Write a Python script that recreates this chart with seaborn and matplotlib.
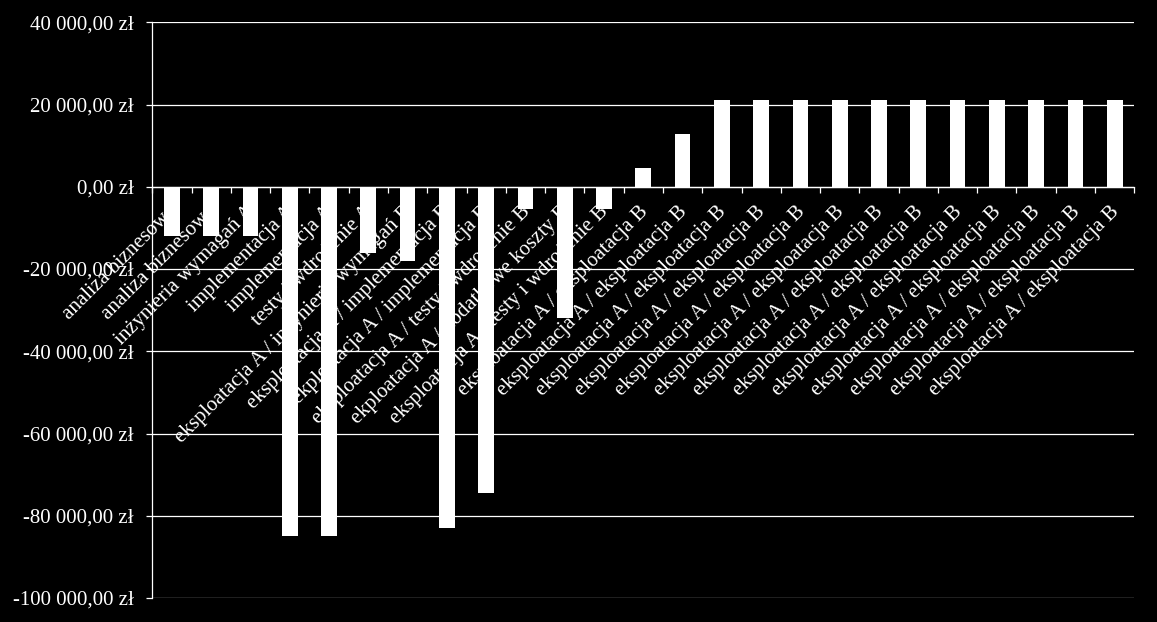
import numpy as np
import pandas as pd
import matplotlib
matplotlib.use("Agg")
import matplotlib.pyplot as plt
import seaborn as sns
from matplotlib.ticker import FuncFormatter
from matplotlib.transforms import ScaledTranslation

# ---- data ----
categories = [
    "analiza biznesowa",
    "analiza biznesowa",
    "inżynieria wymagań A",
    "implementacja A",
    "implementacja A",
    "testy i wdrożenie A",
    "eksploatacja A / inżynieria wymagań B",
    "eksploatacja A / implementacja B",
    "ekploatacja A / implementacja B",
    "eksploatacja A / testy i wdrożenie B",
    "ekploatacja A / dodatkowe koszty B",
    "eksploatacja A / testy i wdrożenie B",
] + ["eksploatacja A / eksploatacja B"] * 13

values = [
    -12000, -12000, -12000, -85000, -85000, -16000,
    -18000, -83000, -74500, -5400, -32000, -5400,
    4500, 12800,
    21000, 21000, 21000, 21000, 21000, 21000, 21000, 21000, 21000, 21000, 21000,
]

y_ticks = [40000, 20000, 0, -20000, -40000, -60000, -80000, -100000]

# ---- styling ----
sns.set_style("dark")
plt.rcParams['font.family'] = ['Liberation Serif', 'DejaVu Serif']

W, H = 1157, 622
fig = plt.figure(figsize=(W / 100, H / 100), dpi=100, facecolor='black')
left, right, top, bottom = 152.3, 1134.3, 22.3, 598.0
ax = fig.add_axes([left / W, 1 - bottom / H, (right - left) / W, (bottom - top) / H])
ax.set_facecolor('black')

df = pd.DataFrame({"poz": list(range(len(values))), "wartosc": values})
sns.barplot(data=df, x="poz", y="wartosc", color="white", saturation=1,
            width=0.4, errorbar=None, linewidth=0, ax=ax)

ax.set_xlim(-0.5, len(values) - 0.5)
ax.set_ylim(-100000, 40000)
ax.set_yticks(y_ticks)

def zl(v, pos):
    s = f"{abs(v):,.2f}".replace(",", " ").replace(".", ",")
    return ("-" if v < 0 else "") + s + " zł"

ax.yaxis.set_major_formatter(FuncFormatter(zl))
ax.set_xlabel("")
ax.set_ylabel("")

ax.set_axisbelow(True)
ax.yaxis.grid(True, color='white', linewidth=0.9)
ax.xaxis.grid(False)

for s in ['top', 'right']:
    ax.spines[s].set_visible(False)
ax.spines['left'].set_color('white')
ax.spines['left'].set_linewidth(0.9)
ax.spines['bottom'].set_position(('data', 0))
ax.spines['bottom'].set_color('white')
ax.spines['bottom'].set_linewidth(0.9)

ax.tick_params(axis='y', colors='white', length=4.0, width=0.9,
               direction='out', pad=9.5, labelsize=15, left=True)
ax.set_xticks([])
ax.set_xticks(np.arange(-0.5, len(values), 1.0), minor=True)
ax.tick_params(axis='x', which='minor', colors='white', length=4.3,
               width=0.9, direction='out', bottom=True)

offset = ScaledTranslation(5 / 100, -25 / 100, fig.dpi_scale_trans)
for i, lab in enumerate(categories):
    ax.text(i, 0, lab, transform=ax.transData + offset, rotation=45,
            rotation_mode='anchor', ha='right', va='baseline',
            color='white', fontsize=15, zorder=0.6, clip_on=False)

fig.savefig("out.png", dpi=100, facecolor='black')
